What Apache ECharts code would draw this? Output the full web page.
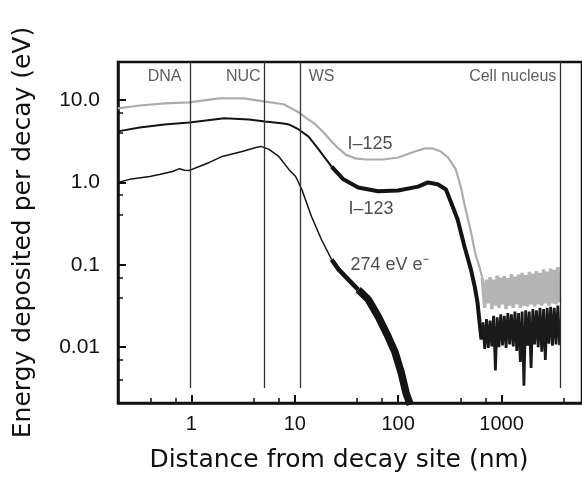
<!DOCTYPE html>
<html><head><meta charset="utf-8">
<script src="https://cdn.jsdelivr.net/npm/echarts@6/dist/echarts.min.js"></script>
<style>html,body{margin:0;padding:0;background:#fff}#c{width:582px;height:491px}</style>
</head><body><div id="c"></div>
<script>
// ---- tick labels ----
const X_TICKS = [1, 10, 100, 1000];
const X_TICK_LABELS = ['1', '10', '100', '1000'];
const Y_TICKS = [0.01, 0.1, 1, 10];
const Y_TICK_LABELS = ['0.01', '0.1', '1.0', '10.0'];

// ---- I-125 (grey) ----
const I125_X = [0.194, 0.316, 0.55, 0.957, 1.86, 3.23, 5.15, 7.8, 10.9, 13.6, 15.9, 19.0, 22.7, 26.5, 30.9, 38.5, 48.0, 71.5, 100, 145, 182, 216, 258, 303, 361, 405, 438, 505, 560, 613, 650];
const I125_Y = [7.92, 8.6, 9.1, 9.37, 10.5, 10.5, 9.6, 8.9, 7.1, 5.8, 5.06, 4.05, 3.15, 2.59, 2.19, 1.96, 1.90, 1.90, 2.01, 2.38, 2.59, 2.59, 2.38, 2.01, 1.44, 0.87, 0.54, 0.254, 0.133, 0.093, 0.070];

// ---- I-123 (black) ----
const I123_X = [0.194, 0.316, 0.55, 0.957, 2.08, 3.6, 5.15, 7.8, 8.76, 10.9, 13.6, 17.0, 22.7, 29.5, 41, 64, 100, 156, 194, 241, 290, 325, 376, 438, 505, 551, 585, 613, 640];
const I123_Y = [4.17, 4.66, 5.06, 5.36, 6.0, 5.83, 5.5, 5.2, 5.06, 4.4, 3.6, 2.52, 1.56, 1.09, 0.87, 0.78, 0.80, 0.89, 1.0, 0.95, 0.82, 0.57, 0.355, 0.167, 0.088, 0.054, 0.035, 0.02, 0.0124];

// ---- 274 eV electron (black) ----
const E274_X = [0.194, 0.253, 0.395, 0.49, 0.657, 0.767, 0.856, 0.957, 1.19, 1.49, 1.99, 3.09, 4.21, 4.71, 5.63, 7.0, 8.76, 10.2, 11.7, 14.5, 18.1, 22.7, 26.5, 33, 41, 51.3, 64, 80, 93.5, 107, 119, 131];
const E274_Y = [1.0, 1.09, 1.18, 1.25, 1.36, 1.47, 1.41, 1.40, 1.56, 1.75, 2.07, 2.38, 2.66, 2.74, 2.52, 2.07, 1.44, 1.18, 0.82, 0.386, 0.203, 0.116, 0.088, 0.066, 0.050, 0.038, 0.0237, 0.0134, 0.0086, 0.0049, 0.0028, 0.002];

// ---- noisy tails beyond ~650 nm ----
const NOISE_X = [660, 687, 715, 744, 774, 805, 838, 872, 907, 944, 982, 1022, 1063, 1106, 1151, 1198, 1246, 1297, 1349, 1404, 1461, 1520, 1582, 1646, 1713, 1782, 1854, 1930, 2008, 2089, 2174, 2262, 2354, 2449, 2549, 2652, 2760, 2872, 2988, 3110, 3236, 3367, 3504, 3646];
const I125_NOISE = [0.070, 0.030, 0.066, 0.034, 0.071, 0.029, 0.066, 0.032, 0.074, 0.030, 0.070, 0.033, 0.073, 0.029, 0.069, 0.032, 0.077, 0.030, 0.072, 0.033, 0.076, 0.030, 0.080, 0.032, 0.075, 0.031, 0.082, 0.033, 0.078, 0.031, 0.084, 0.033, 0.080, 0.032, 0.088, 0.034, 0.083, 0.032, 0.090, 0.034, 0.087, 0.033, 0.094, 0.035];
const I123_NOISE = [0.020, 0.0095, 0.022, 0.0098, 0.021, 0.0102, 0.024, 0.0052, 0.023, 0.0100, 0.025, 0.0105, 0.024, 0.0098, 0.026, 0.0108, 0.025, 0.0102, 0.027, 0.0090, 0.026, 0.0066, 0.027, 0.0034, 0.028, 0.0104, 0.027, 0.0056, 0.029, 0.0108, 0.028, 0.0100, 0.030, 0.0088, 0.029, 0.0070, 0.030, 0.0110, 0.031, 0.0104, 0.030, 0.0108, 0.032, 0.0106];

// ---- region boundaries ----
const REGION_NAMES = ['DNA', 'NUC', 'WS', 'Cell nucleus'];
const REGION_X = [0.98, 5.1, 11.4, 3700];
const REGION_SIDE = ['left', 'left', 'right', 'left'];
const REGION_LINE_BOTTOM = 0.0032;
const REGION_LABEL_Y = 19.4;

// ---- curve labels ----
const CURVE_LABELS = ['I\u2013125', 'I\u2013123', '274 eV e\u207B'];
const CURVE_LABEL_X = [32.3, 33, 34.6];
const CURVE_LABEL_Y = [2.9, 0.47, 0.1];

const X_MIN = 0.195, X_MAX = 6000, Y_MIN = 0.0021, Y_MAX = 29;

function pts(xs, ys) { return xs.map((x, i) => [x, ys[i]]); }
function lab(ticks, labels) {
  return v => { const i = ticks.findIndex(t => Math.abs(Math.log10(v / t)) < 1e-6); return i >= 0 ? labels[i] : ''; };
}
function line(name, data, color, width, z) {
  return { type: 'line', name, data, symbol: 'none', showSymbol: false, silent: true, z,
    lineStyle: { color, width, join: 'bevel' } };
}

const i123All = pts(I123_X, I123_Y);
const e274All = pts(E274_X, E274_Y);
const split123 = I123_X.indexOf(22.7);
const split274a = E274_X.indexOf(22.7);
const split274b = E274_X.indexOf(41);
const i125Last = [I125_X[I125_X.length - 1], I125_Y[I125_Y.length - 1]];
const i123Last = i123All[i123All.length - 1];

const chart = echarts.init(document.getElementById('c'), null, { renderer: 'canvas' });
const axisColor = '#111';
chart.setOption({
  animation: false,
  backgroundColor: '#fff',
  grid: { left: 118, right: -3, top: 62, bottom: 88, show: true, borderColor: axisColor, borderWidth: 2.5 },
  xAxis: {
    type: 'log', logBase: 10, min: X_MIN, max: X_MAX,
    axisLine: { show: true, lineStyle: { color: axisColor, width: 2.5 } },
    axisTick: { show: true, inside: true, length: 8, lineStyle: { color: axisColor, width: 2 } },
    minorTick: { show: true, splitNumber: 3, length: 5, lineStyle: { color: axisColor, width: 1.5 } },
    splitLine: { show: false }, minorSplitLine: { show: false },
    axisLabel: { formatter: lab(X_TICKS, X_TICK_LABELS), fontFamily: 'Liberation Sans', fontSize: 20, color: axisColor, margin: 11, showMinLabel: false, showMaxLabel: false },
    name: 'Distance from decay site (nm)', nameLocation: 'middle', nameGap: 45,
    nameTextStyle: { fontFamily: 'DejaVu Sans', fontSize: 25, color: axisColor, padding: [0, 22, 0, 0] }
  },
  yAxis: {
    type: 'log', logBase: 10, min: Y_MIN, max: Y_MAX,
    axisLine: { show: true, lineStyle: { color: axisColor, width: 2.5 } },
    axisTick: { show: true, inside: true, length: 8, lineStyle: { color: axisColor, width: 2 } },
    minorTick: { show: true, splitNumber: 3, length: 5, lineStyle: { color: axisColor, width: 1.5 } },
    splitLine: { show: false }, minorSplitLine: { show: false },
    axisLabel: { formatter: lab(Y_TICKS, Y_TICK_LABELS), fontFamily: 'Liberation Sans', fontSize: 21, color: axisColor, margin: 18, showMinLabel: false, showMaxLabel: false },
    name: 'Energy deposited per decay (eV)', nameLocation: 'middle', nameGap: 82, nameRotate: 90,
    nameTextStyle: { fontFamily: 'DejaVu Sans', fontSize: 25, color: axisColor }
  },
  series: [
    line('I-125', pts(I125_X, I125_Y), '#acacac', 2.2, 2),
    line('I-125 (tail)', [i125Last].concat(pts(NOISE_X, I125_NOISE)), '#b4b4b4', 3.4, 2),
    line('I-123 (near)', i123All.slice(0, split123 + 1), '#141414', 2, 3),
    line('I-123 (far)', i123All.slice(split123), '#141414', 4, 3),
    line('I-123 (tail)', [i123Last].concat(pts(NOISE_X, I123_NOISE)), '#1a1a1a', 2.8, 3),
    line('274 eV (near)', e274All.slice(0, split274a + 1), '#141414', 1.5, 3),
    line('274 eV (mid)', e274All.slice(split274a, split274b + 1), '#141414', 4.5, 3),
    line('274 eV (far)', e274All.slice(split274b), '#141414', 7.5, 3),
    {
      type: 'scatter', name: 'regions', silent: true, z: 4, symbolSize: 0,
      data: REGION_X.map((x, i) => ({ value: [x, REGION_LABEL_Y], name: REGION_NAMES[i],
        label: { position: REGION_SIDE[i], distance: REGION_SIDE[i] === 'right' ? 8 : (i === 0 ? 9 : 4) } })),
      label: { show: true, formatter: p => p.name, fontFamily: 'Liberation Sans', fontSize: 16, color: '#333' },
      markLine: {
        silent: true, symbol: 'none', animation: false,
        lineStyle: { color: '#333', width: 1.3, type: 'solid' },
        label: { show: false },
        data: REGION_X.map(x => [{ coord: [x, REGION_LINE_BOTTOM] }, { coord: [x, Y_MAX] }])
      }
    },
    {
      type: 'scatter', name: 'curve labels', silent: true, z: 4, symbolSize: 0,
      data: CURVE_LABELS.map((t, i) => ({ value: [CURVE_LABEL_X[i], CURVE_LABEL_Y[i]], name: t })),
      label: { show: true, position: 'right', distance: 0, formatter: p => p.name, fontFamily: 'Liberation Sans', fontSize: 18, color: '#222' }
    }
  ]
});
</script></body></html>
